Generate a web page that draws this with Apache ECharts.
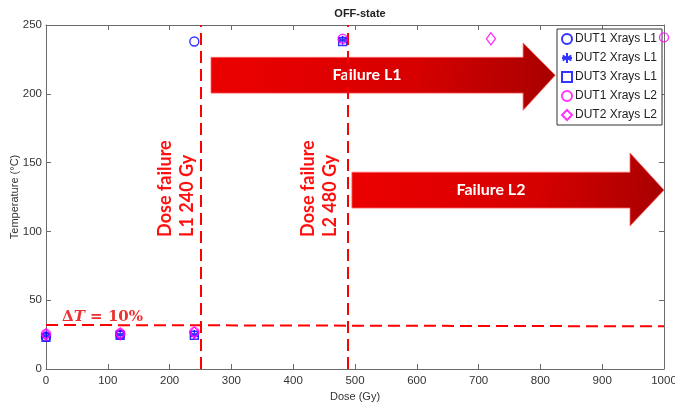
<!DOCTYPE html>
<html>
<head>
<meta charset="utf-8">
<script src="https://cdn.jsdelivr.net/npm/echarts@6/dist/echarts.min.js"></script>
<style>
  html, body { margin: 0; padding: 0; background: #fff; }
  #chart { width: 675px; height: 405px; }
</style>
</head>
<body>
<div id="chart"></div>
<script>
// ---- measured values ----
const seriesNames = ['DUT1 Xrays L1', 'DUT2 Xrays L1', 'DUT3 Xrays L1', 'DUT1 Xrays L2', 'DUT2 Xrays L2'];

const dut1L1Dose = [0, 120, 240];
const dut1L1Temp = [23.5, 25, 238];

const dut2L1Dose = [0, 120, 240, 480];
const dut2L1Temp = [24, 25, 25, 239];

const dut3L1Dose = [0, 120, 240, 480];
const dut3L1Temp = [23, 24.5, 24.5, 238];

const dut1L2Dose = [0, 120, 240, 480, 1000];
const dut1L2Temp = [25.5, 26, 27, 240, 241];

const dut2L2Dose = [0, 120, 240, 720];
const dut2L2Temp = [25, 25.5, 26.5, 240];

// failure thresholds
const failureDoses = [250, 488];
const deltaTLevel = [32, 31];     // temperature at dose 0 and at dose 1000
const xTicks = [0, 100, 200, 300, 400, 500, 600, 700, 800, 900, 1000];
const yTicks = [0, 50, 100, 150, 200, 250];

const zip = (xs, ys) => xs.map((x, i) => [x, ys[i]]);

// ---- annotation geometry (data units) ----
const arrows = [
  { text: 'Failure L1', x0: 267, x1: 772, tip: 824, lo: 200.5, hi: 226.5, headLo: 188, headHi: 237 },
  { text: 'Failure L2', x0: 495, x1: 945, tip: 1000, lo: 117, hi: 143, headLo: 104, headHi: 157 }
];
const doseLabels = [
  { text: 'Dose failure\nL1 240 Gy', x: 210, y: 96 },
  { text: 'Dose failure\nL2 480 Gy', x: 442, y: 96 }
];

const BLUE = '#0000ff';
const MAGENTA = '#ff00ff';
const RED = '#ff0000';
const ASTERISK = 'path://M0,-5L0,5M-4.33,-2.5L4.33,2.5M-4.33,2.5L4.33,-2.5M-5,0L5,0';

function renderAnnotations(params, api) {
  const children = [];
  arrows.forEach(a => {
    const p = (x, y) => api.coord([x, y]);
    const mid = (a.lo + a.hi) / 2;
    const pts = [
      p(a.x0, a.lo), p(a.x0, a.hi), p(a.x1, a.hi), p(a.x1, a.headHi),
      p(a.tip, mid), p(a.x1, a.headLo), p(a.x1, a.lo)
    ];
    children.push({
      type: 'polygon',
      shape: { points: pts },
      style: {
        fill: new echarts.graphic.LinearGradient(0, 0, 1, 0.4, [
          { offset: 0, color: '#ec0000' },
          { offset: 0.6, color: '#d60000' },
          { offset: 1, color: '#a80000' }
        ]),
        stroke: '#ff6060',
        lineWidth: 0.8
      }
    });
    const c = p((a.x0 + a.x1) / 2, mid);
    children.push({
      type: 'text',
      x: c[0], y: c[1],
      style: {
        text: a.text, fill: '#ffffff',
        font: 'bold 16px Lato, "Open Sans", sans-serif',
        align: 'center', verticalAlign: 'middle'
      }
    });
  });
  doseLabels.forEach(l => {
    const c = api.coord([l.x, l.y]);
    children.push({
      type: 'text',
      x: c[0], y: c[1],
      rotation: Math.PI / 2,
      style: {
        text: l.text, fill: '#ff1010',
        font: 'bold 18px Lato, "Open Sans", sans-serif',
        lineHeight: 22,
        align: 'left', verticalAlign: 'middle'
      }
    });
  });
  const d = api.coord([26, 37.5]);
  children.push({
    type: 'text',
    x: d[0], y: d[1],
    style: {
      text: '{n|Δ}{i|T}{n| = 10%}',
      verticalAlign: 'middle', align: 'left',
      rich: {
        n: { fontFamily: '"DejaVu Serif", "Liberation Serif", serif', fontWeight: 'bold', fontSize: 15, fill: '#ee3030' },
        i: { fontFamily: '"DejaVu Serif", "Liberation Serif", serif', fontWeight: 'bold', fontStyle: 'italic', fontSize: 15, fill: '#ee3030' }
      }
    }
  });
  return { type: 'group', children };
}

const axisCommon = {
  type: 'value',
  axisLine: { show: true, onZero: false, lineStyle: { color: '#6a6a6a', width: 1 } },
  axisTick: { show: true, inside: true, length: 5, lineStyle: { color: '#6a6a6a' } },
  splitLine: { show: false }
};

const scatterBase = {
  type: 'scatter',
  z: 5,
  itemStyle: { color: 'rgba(0,0,0,0)', borderWidth: 1.4 }
};

const chart = echarts.init(document.getElementById('chart'), null, { renderer: 'canvas' });
chart.setOption({
  animation: false,
  textStyle: { fontFamily: '"Liberation Sans", Arial, sans-serif' },
  title: {
    text: 'OFF-state', left: 355, top: 3, textAlign: 'center',
    textStyle: { fontSize: 11, fontWeight: 'bold', color: '#222' }
  },
  grid: { left: 46, right: 11, top: 25, bottom: 36, containLabel: false, outerBoundsMode: 'none' },
  legend: {
    data: seriesNames,
    orient: 'vertical', left: 557, top: 29,
    backgroundColor: '#fff', borderColor: '#333', borderWidth: 1,
    padding: [4, 5, 4, 4],
    itemWidth: 10, itemHeight: 10, itemGap: 7,
    textStyle: { fontSize: 12, color: '#222', padding: [0, 0, 0, -2] }
  },
  xAxis: [
    Object.assign({}, axisCommon, {
      position: 'bottom', min: xTicks[0], max: xTicks[xTicks.length - 1], interval: 100,
      name: 'Dose (Gy)', nameLocation: 'middle', nameGap: 21,
      nameTextStyle: { fontSize: 11, color: '#333' },
      axisLabel: { fontSize: 11.5, color: '#333', margin: 6, formatter: v => String(v) }
    }),
    Object.assign({}, axisCommon, {
      position: 'top', min: xTicks[0], max: xTicks[xTicks.length - 1], interval: 100,
      axisLabel: { show: false }
    })
  ],
  yAxis: [
    Object.assign({}, axisCommon, {
      position: 'left', min: yTicks[0], max: yTicks[yTicks.length - 1], interval: 50,
      name: 'Temperature (°C)', nameLocation: 'middle', nameGap: 26, nameMoveOverlap: false,
      nameTextStyle: { fontSize: 11, color: '#333' },
      axisLabel: { fontSize: 11.5, color: '#333', margin: 4, formatter: v => String(v) }
    }),
    Object.assign({}, axisCommon, {
      position: 'right', min: yTicks[0], max: yTicks[yTicks.length - 1], interval: 50,
      axisLabel: { show: false }
    })
  ],
  series: [
    {
      type: 'custom',
      name: 'annotations',
      z: 2,
      silent: true,
      clip: false,
      data: [[0, 0]],
      renderItem: renderAnnotations,
      markLine: {
        silent: true,
        symbol: ['none', 'none'],
        label: { show: false },
        lineStyle: { color: RED, width: 2, type: [12, 6] },
        data: [
          { xAxis: failureDoses[0] },
          { xAxis: failureDoses[1] },
          [{ coord: [xTicks[0], deltaTLevel[0]] }, { coord: [xTicks[xTicks.length - 1], deltaTLevel[1]] }]
        ]
      }
    },
    Object.assign({}, scatterBase, {
      name: seriesNames[0], symbol: 'circle', symbolSize: 9,
      itemStyle: { color: 'rgba(0,0,0,0)', borderColor: BLUE, borderWidth: 1.4 },
      data: zip(dut1L1Dose, dut1L1Temp)
    }),
    Object.assign({}, scatterBase, {
      name: seriesNames[1], symbol: ASTERISK, symbolSize: 9,
      itemStyle: { color: BLUE, borderColor: BLUE, borderWidth: 1.4 },
      data: zip(dut2L1Dose, dut2L1Temp)
    }),
    Object.assign({}, scatterBase, {
      name: seriesNames[2], symbol: 'rect', symbolSize: 8,
      itemStyle: { color: 'rgba(0,0,0,0)', borderColor: BLUE, borderWidth: 1.4 },
      data: zip(dut3L1Dose, dut3L1Temp)
    }),
    Object.assign({}, scatterBase, {
      name: seriesNames[3], symbol: 'circle', symbolSize: 9,
      itemStyle: { color: 'rgba(0,0,0,0)', borderColor: MAGENTA, borderWidth: 1.4 },
      data: zip(dut1L2Dose, dut1L2Temp)
    }),
    Object.assign({}, scatterBase, {
      name: seriesNames[4], symbol: 'diamond', symbolSize: [9, 12],
      itemStyle: { color: 'rgba(0,0,0,0)', borderColor: MAGENTA, borderWidth: 1.4 },
      data: zip(dut2L2Dose, dut2L2Temp)
    })
  ]
});
</script>
</body>
</html>
